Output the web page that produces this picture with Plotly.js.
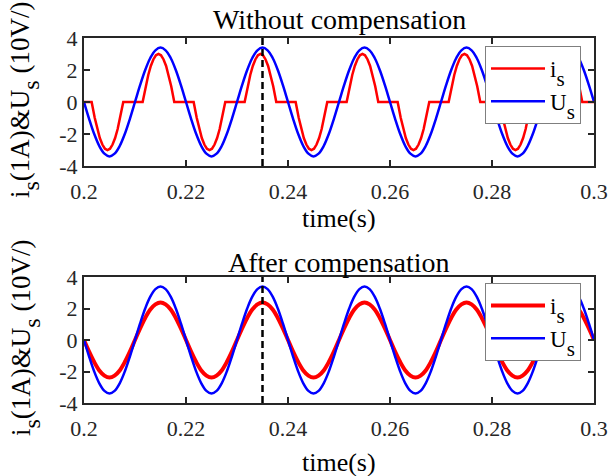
<!DOCTYPE html>
<html><head><meta charset="utf-8">
<script src="https://cdn.plot.ly/plotly-3.0.1.min.js"></script>
<style>html,body{margin:0;padding:0;background:#fff}#chart{width:608px;height:476px}</style>
</head><body><div id="chart"></div>
<script>
// ---- data ----
const time = [
 0.200,0.201,0.202,0.203,0.204,0.205,0.206,0.207,0.208,0.209,
 0.210,0.211,0.212,0.213,0.214,0.215,0.216,0.217,0.218,0.219,
 0.220,0.221,0.222,0.223,0.224,0.225,0.226,0.227,0.228,0.229,
 0.230,0.231,0.232,0.233,0.234,0.235,0.236,0.237,0.238,0.239,
 0.240,0.241,0.242,0.243,0.244,0.245,0.246,0.247,0.248,0.249,
 0.250,0.251,0.252,0.253,0.254,0.255,0.256,0.257,0.258,0.259,
 0.260,0.261,0.262,0.263,0.264,0.265,0.266,0.267,0.268,0.269,
 0.270,0.271,0.272,0.273,0.274,0.275,0.276,0.277,0.278,0.279,
 0.280,0.281,0.282,0.283,0.284,0.285,0.286,0.287,0.288,0.289,
 0.290,0.291,0.292,0.293,0.294,0.295,0.296,0.297,0.298,0.299,
 0.300];
// supply voltage U_s (10 V per unit), same in both panels
const usVoltage = [
 0,-1.05,-2.00,-2.75,-3.23,-3.40,-3.23,-2.75,-2.00,-1.05, 0,1.05,2.00,2.75,3.23,3.40,3.23,2.75,2.00,1.05,
 0,-1.05,-2.00,-2.75,-3.23,-3.40,-3.23,-2.75,-2.00,-1.05, 0,1.05,2.00,2.75,3.23,3.40,3.23,2.75,2.00,1.05,
 0,-1.05,-2.00,-2.75,-3.23,-3.40,-3.23,-2.75,-2.00,-1.05, 0,1.05,2.00,2.75,3.23,3.40,3.23,2.75,2.00,1.05,
 0,-1.05,-2.00,-2.75,-3.23,-3.40,-3.23,-2.75,-2.00,-1.05, 0,1.05,2.00,2.75,3.23,3.40,3.23,2.75,2.00,1.05,
 0,-1.05,-2.00,-2.75,-3.23,-3.40,-3.23,-2.75,-2.00,-1.05, 0,1.05,2.00,2.75,3.23,3.40,3.23,2.75,2.00,1.05,
 0];
// source current after compensation (1 A per unit)
const isAfter = [
 0,-0.74,-1.40,-1.93,-2.26,-2.38,-2.26,-1.93,-1.40,-0.74, 0,0.74,1.40,1.93,2.26,2.38,2.26,1.93,1.40,0.74,
 0,-0.74,-1.40,-1.93,-2.26,-2.38,-2.26,-1.93,-1.40,-0.74, 0,0.74,1.40,1.93,2.26,2.38,2.26,1.93,1.40,0.74,
 0,-0.74,-1.40,-1.93,-2.26,-2.38,-2.26,-1.93,-1.40,-0.74, 0,0.74,1.40,1.93,2.26,2.38,2.26,1.93,1.40,0.74,
 0,-0.74,-1.40,-1.93,-2.26,-2.38,-2.26,-1.93,-1.40,-0.74, 0,0.74,1.40,1.93,2.26,2.38,2.26,1.93,1.40,0.74,
 0,-0.74,-1.40,-1.93,-2.26,-2.38,-2.26,-1.93,-1.40,-0.74, 0,0.74,1.40,1.93,2.26,2.38,2.26,1.93,1.40,0.74,
 0];
// source current without compensation: pulses with dead zones
const isBeforeTime = [
 0.2000,
 0.2015,0.2021,0.2026,0.2031,0.2036,0.2041,0.2046,0.2051,0.2056,0.2061,0.2066,0.2071,0.2077,
 0.2115,0.2121,0.2126,0.2131,0.2136,0.2141,0.2146,0.2151,0.2156,0.2161,0.2166,0.2171,0.2177,
 0.2215,0.2221,0.2226,0.2231,0.2236,0.2241,0.2246,0.2251,0.2256,0.2261,0.2266,0.2271,0.2277,
 0.2315,0.2321,0.2326,0.2331,0.2336,0.2341,0.2346,0.2351,0.2356,0.2361,0.2366,0.2371,0.2377,
 0.2415,0.2421,0.2426,0.2431,0.2436,0.2441,0.2446,0.2451,0.2456,0.2461,0.2466,0.2471,0.2477,
 0.2515,0.2521,0.2526,0.2531,0.2536,0.2541,0.2546,0.2551,0.2556,0.2561,0.2566,0.2571,0.2577,
 0.2615,0.2621,0.2626,0.2631,0.2636,0.2641,0.2646,0.2651,0.2656,0.2661,0.2666,0.2671,0.2677,
 0.2715,0.2721,0.2726,0.2731,0.2736,0.2741,0.2746,0.2751,0.2756,0.2761,0.2766,0.2771,0.2777,
 0.2815,0.2821,0.2826,0.2831,0.2836,0.2841,0.2846,0.2851,0.2856,0.2861,0.2866,0.2871,0.2877,
 0.2915,0.2921,0.2926,0.2931,0.2936,0.2941,0.2946,0.2951,0.2956,0.2961,0.2966,0.2971,0.2977,
 0.3000];
const isBefore = [
 0,
 0,-0.99,-1.69,-2.25,-2.66,-2.92,-3.00,-2.92,-2.66,-2.25,-1.69,-0.99,0,
 0,0.99,1.69,2.25,2.66,2.92,3.00,2.92,2.66,2.25,1.69,0.99,0,
 0,-0.99,-1.69,-2.25,-2.66,-2.92,-3.00,-2.92,-2.66,-2.25,-1.69,-0.99,0,
 0,0.99,1.69,2.25,2.66,2.92,3.00,2.92,2.66,2.25,1.69,0.99,0,
 0,-0.99,-1.69,-2.25,-2.66,-2.92,-3.00,-2.92,-2.66,-2.25,-1.69,-0.99,0,
 0,0.99,1.69,2.25,2.66,2.92,3.00,2.92,2.66,2.25,1.69,0.99,0,
 0,-0.99,-1.69,-2.25,-2.66,-2.92,-3.00,-2.92,-2.66,-2.25,-1.69,-0.99,0,
 0,0.99,1.69,2.25,2.66,2.92,3.00,2.92,2.66,2.25,1.69,0.99,0,
 0,-0.99,-1.69,-2.25,-2.66,-2.92,-3.00,-2.92,-2.66,-2.25,-1.69,-0.99,0,
 0,0.99,1.69,2.25,2.66,2.92,3.00,2.92,2.66,2.25,1.69,0.99,0,
 0];
const markerTime = [0.235, 0.235];
const markerLevel = [-4, 4];
const xTickVals = [0.2, 0.22, 0.24, 0.26, 0.28, 0.3];
const xTickText = ['0.2', '0.22', '0.24', '0.26', '0.28', '0.3'];
const yTickVals = [-4, -2, 0, 2, 4];
const yTickText = ['-4', '-2', '0', '2', '4'];
const panelTitles = ['Without compensation', 'After compensation'];
const xLabel = 'time(s)';

// ---- drawing ----
const FONT = 'Liberation Serif, Times New Roman, serif';
const INK = '#262626';
// subscript drawn near full size and well below the baseline, as in the reference
const sub = (letter, size) => '<sub><sub><span style="font-size:' + size + 'px">' + letter + '</span></sub></sub>';
const seriesNames = ['i' + sub('s', 21), 'U' + sub('s', 21)];
const yLabel = 'i' + sub('s', 24) + '(1A)&amp;U' + sub('s', 24) + ' (10V/)';

const traces = [
  {x: isBeforeTime, y: isBefore, xaxis: 'x', yaxis: 'y', type: 'scatter', mode: 'lines',
   name: seriesNames[0], legend: 'legend', line: {color: '#ff0000', width: 2.5}},
  {x: time, y: usVoltage, xaxis: 'x', yaxis: 'y', type: 'scatter', mode: 'lines',
   name: seriesNames[1], legend: 'legend', line: {color: '#0000ff', width: 2.5, shape: 'spline', smoothing: 1}},
  {x: markerTime, y: markerLevel, xaxis: 'x', yaxis: 'y', type: 'scatter', mode: 'lines',
   showlegend: false, line: {color: '#000000', width: 2.5, dash: '7px,4px'}},
  {x: time, y: isAfter, xaxis: 'x2', yaxis: 'y2', type: 'scatter', mode: 'lines',
   name: seriesNames[0], legend: 'legend2', line: {color: '#ff0000', width: 4, shape: 'spline', smoothing: 1}},
  {x: time, y: usVoltage, xaxis: 'x2', yaxis: 'y2', type: 'scatter', mode: 'lines',
   name: seriesNames[1], legend: 'legend2', line: {color: '#0000ff', width: 2.5, shape: 'spline', smoothing: 1}},
  {x: markerTime, y: markerLevel, xaxis: 'x2', yaxis: 'y2', type: 'scatter', mode: 'lines',
   showlegend: false, line: {color: '#000000', width: 2.5, dash: '7px,4px'}}
];

function axis(extra) {
  return Object.assign({
    showline: true, linecolor: INK, linewidth: 2, mirror: 'ticks',
    ticks: 'inside', ticklen: 6, tickwidth: 2, tickcolor: INK,
    showgrid: false, zeroline: false, fixedrange: true,
    tickfont: {family: FONT, size: 22, color: INK}
  }, extra);
}

const W = 608, H = 476, ML = 84, MR = 14, MT = 38, MB = 73;
const PW = W - ML - MR, PH = H - MT - MB;
const py = p => (H - MB - p) / PH;   // pixel row -> paper y
const px = p => (p - ML) / PW;       // pixel col -> paper x

function legendBox(topPx) {
  return {
    x: px(485), y: py(topPx), xanchor: 'left', yanchor: 'top',
    bgcolor: '#ffffff', bordercolor: '#7f7f7f', borderwidth: 1,
    font: {family: FONT, size: 23, color: '#000000'},
    itemwidth: 54, tracegroupgap: 0
  };
}

function ann(text, x, y, size, angle) {
  return {text: text, xref: 'paper', yref: 'paper', x: x, y: y,
    xanchor: 'center', yanchor: 'middle', showarrow: false,
    textangle: angle || 0, font: {family: FONT, size: size, color: '#000000'}};
}

const xCommon = {domain: [0, 1], range: [0.2, 0.3], tickvals: xTickVals, ticktext: xTickText, ticklabelstandoff: 5};
const layout = {
  width: W, height: H,
  margin: {l: ML, r: MR, t: MT, b: MB, pad: 0},
  paper_bgcolor: '#ffffff', plot_bgcolor: '#ffffff',
  showlegend: true,
  xaxis: axis(Object.assign({anchor: 'y'}, xCommon)),
  yaxis: axis({domain: [py(166), 1], range: [-4, 4], anchor: 'x', tickvals: yTickVals, ticktext: yTickText}),
  xaxis2: axis(Object.assign({anchor: 'y2'}, xCommon)),
  yaxis2: axis({domain: [0, py(277)], range: [-4, 4], anchor: 'x2', tickvals: yTickVals, ticktext: yTickText}),
  legend: legendBox(46),
  legend2: legendBox(283),
  annotations: [
    ann(panelTitles[0], 0.5, py(20), 28),
    ann(panelTitles[1], 0.5, py(262), 28),
    ann(xLabel, 0.5, py(218), 26),
    ann(xLabel, 0.5, py(462), 26),
    ann(yLabel, px(25), py(100), 27, -90),
    ann(yLabel, px(25), py(338), 27, -90)
  ]
};

Plotly.newPlot('chart', traces, layout, {displayModeBar: false, staticPlot: true});
</script>
</body></html>
